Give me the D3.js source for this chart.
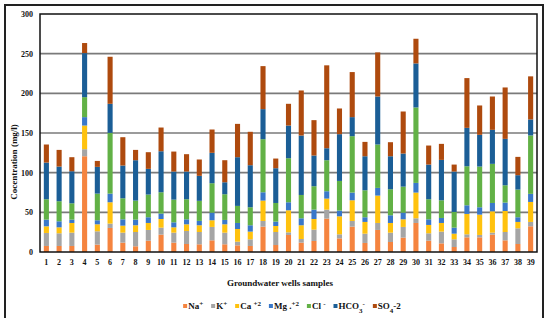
<!DOCTYPE html>
<html>
<head>
<meta charset="utf-8">
<script src="https://cdn.jsdelivr.net/npm/d3@7"></script>
<style>
  html, body { margin: 0; padding: 0; background: #fff; }
  svg { display: block; font-family: "Liberation Serif", "Times New Roman", serif; font-weight: bold; }
</style>
</head>
<body>
<div id="chart"></div>
<script>
// wells 1..39
const wells = d3.range(1, 40).map(String);

// ion concentrations (mg/l)
const na   = [7.6, 7.6, 7.6, 120.7, 9.3, 30.3, 11.8, 7.2, 14.3, 21.9, 11.8, 10.1, 9.7, 14.7, 9.7, 8.4, 7.6, 32, 8.8, 21.5, 11.8, 13.9, 42.1, 17.2, 32, 11.4, 27.8, 12.6, 18.1, 36.6, 14.3, 10.9, 6.3, 18.5, 18.5, 21.9, 14.7, 10.1, 32.4];
const k    = [16.4, 16, 16.8, 8.9, 16.8, 5.5, 12.6, 18, 13.5, 8.8, 12.6, 16.4, 15.5, 16.9, 14.7, 4.6, 8.4, 7.1, 16.4, 3.3, 4.6, 14.3, 11.3, 5.1, 7.1, 11.7, 8.8, 11.8, 13.5, 5.9, 9.3, 14.8, 9.7, 3.8, 3, 2.5, 10.5, 19.8, 5.5];
const ca   = [8.4, 7.5, 12.2, 29.8, 8.8, 26.9, 8.8, 8.5, 8.8, 10.9, 6.7, 8.4, 8.5, 8.4, 10.5, 16, 9.7, 25.7, 7.6, 27.8, 17.3, 13.4, 13.9, 22.7, 26.1, 14.8, 34.5, 12.2, 9.6, 32.4, 10.5, 10.9, 7.1, 25.7, 25.6, 26.9, 26.5, 8, 25.2];
const mg   = [8.4, 7.6, 4.2, 10.6, 5.1, 10.9, 8, 7.1, 7.2, 6.8, 6.3, 6.3, 5.5, 9.6, 5.5, 7.6, 8, 10.5, 5.5, 10.1, 8.8, 11.8, 9.3, 7.2, 9.7, 5.9, 9.7, 9.7, 8.4, 12.2, 7.1, 6.3, 7.6, 10.9, 9.3, 10.5, 10.6, 5.9, 10.2];
const cl   = [25.7, 25.3, 20.6, 25.2, 33.6, 76.6, 26.5, 24, 28.6, 26.9, 28.6, 25.3, 25.3, 37.1, 32.4, 21.5, 22.7, 66.9, 23.5, 55.5, 29.4, 29.5, 39.1, 37.4, 71.1, 34, 54.7, 32.8, 32.8, 95.1, 25.3, 22.3, 19.8, 49.2, 51.3, 49.3, 21.8, 34.9, 73.6];
const hco3 = [46.2, 43.7, 40.4, 55.5, 33.7, 36.6, 41.3, 50.9, 32.4, 51.7, 35.4, 34.9, 31.5, 38.3, 15.1, 61.4, 53, 37.9, 43.8, 41.2, 74.9, 38.7, 15.1, 58.9, 24, 42.9, 60.5, 41.6, 41.7, 55.5, 43.7, 50.9, 50.9, 48.4, 40, 42.9, 58.5, 18.1, 20.2];
const so4  = [22.8, 21, 17.7, 12.7, 7.5, 59.3, 35.7, 13, 21, 29.9, 25.2, 21.9, 20.6, 29.4, 27.8, 42, 42.1, 54.2, 12.2, 27.4, 56.8, 44.6, 104.5, 32.4, 56.8, 18.1, 55.6, 17.7, 53, 31.1, 24, 20.2, 8.8, 62.7, 37, 42, 64.8, 23.1, 54.3];

const yTicks = [0, 50, 100, 150, 200, 250, 300];

const series = [
  { key: "na",   values: na,   color: "#f5843f" },
  { key: "k",    values: k,    color: "#a5a5a5" },
  { key: "ca",   values: ca,   color: "#ffc20e" },
  { key: "mg",   values: mg,   color: "#3a78c9" },
  { key: "cl",   values: cl,   color: "#62b146" },
  { key: "hco3", values: hco3, color: "#1b5e96" },
  { key: "so4",  values: so4,  color: "#ae4a0e" }
];

const width = 550, height = 320;
const plot = { left: 40, right: 537, top: 14, bottom: 252 };

const svg = d3.select("#chart").append("svg")
  .attr("width", width)
  .attr("height", height);

// outer frame (open at the bottom, the figure is cropped there)
svg.append("path")
  .attr("d", `M5,318 V5 H543 V318`)
  .attr("fill", "none")
  .attr("stroke", "#222")
  .attr("stroke-width", 2);

const x = d3.scaleBand()
  .domain(wells)
  .range([plot.left, plot.right])
  .paddingInner(0.6)
  .paddingOuter(0.3);

const y = d3.scaleLinear()
  .domain([0, 300])
  .range([plot.bottom, plot.top]);

// gridlines
svg.append("g")
  .selectAll("line")
  .data(yTicks.filter(d => d > 0 && d < 300))
  .join("line")
  .attr("x1", plot.left).attr("x2", plot.right)
  .attr("y1", d => y(d)).attr("y2", d => y(d))
  .attr("stroke", "#7a7a7a")
  .attr("stroke-width", 1.6);

// build rows for stacking
const rows = wells.map((w, i) => {
  const r = { well: w };
  series.forEach(s => r[s.key] = s.values[i]);
  return r;
});
const stacked = d3.stack().keys(series.map(s => s.key))(rows);

svg.append("g")
  .selectAll("g")
  .data(stacked)
  .join("g")
  .attr("fill", (d, i) => series[i].color)
  .selectAll("rect")
  .data(d => d)
  .join("rect")
  .attr("x", d => x(d.data.well))
  .attr("width", x.bandwidth())
  .attr("y", d => y(d[1]))
  .attr("height", d => y(d[0]) - y(d[1]));

// plot border
svg.append("rect")
  .attr("x", plot.left).attr("y", plot.top)
  .attr("width", plot.right - plot.left)
  .attr("height", plot.bottom - plot.top)
  .attr("fill", "none")
  .attr("stroke", "#111")
  .attr("stroke-width", 1.5);

// y axis
const yAxis = svg.append("g")
  .attr("transform", `translate(${plot.left},0)`)
  .call(d3.axisLeft(y).tickValues(yTicks).tickSize(0).tickPadding(7));
yAxis.select(".domain").remove();
yAxis.selectAll("text")
  .style("font-family", "Liberation Serif, serif")
  .style("font-weight", "bold")
  .style("font-size", "8px")
  .attr("fill", "#111");

// x axis
const xAxis = svg.append("g")
  .attr("transform", `translate(0,${plot.bottom})`)
  .call(d3.axisBottom(x).tickSize(0).tickPadding(7));
xAxis.select(".domain").remove();
xAxis.selectAll("text")
  .style("font-family", "Liberation Serif, serif")
  .style("font-weight", "bold")
  .style("font-size", "8px")
  .attr("fill", "#111");

// axis titles
svg.append("text")
  .attr("transform", "translate(17,162) rotate(-90)")
  .attr("text-anchor", "middle")
  .style("font-size", "9px")
  .attr("fill", "#111")
  .text("Cocentration  (mg/l)");

svg.append("text")
  .attr("x", 280).attr("y", 286)
  .attr("text-anchor", "middle")
  .style("font-size", "9px")
  .attr("fill", "#111")
  .text("Groundwater  wells samples");

// legend
const legendItems = [
  { color: series[0].color, parts: [["Na", 0], ["+", 1]] },
  { color: series[1].color, parts: [["K", 0], ["+", 1]] },
  { color: series[2].color, parts: [["Ca ", 0], ["+2", 1]] },
  { color: series[3].color, parts: [["Mg .", 0], ["+2", 1]] },
  { color: series[4].color, parts: [["Cl ", 0], ["-", 1]] },
  { color: series[5].color, parts: [["HCO", 0], ["3", -1], ["-", 1]] },
  { color: series[6].color, parts: [["SO", 0], ["4", -1], ["-2", 0]] }
];

const legend = svg.append("g");
let lx = 0;
const ly = 309;
legendItems.forEach(item => {
  legend.append("rect")
    .attr("x", lx).attr("y", ly - 5)
    .attr("width", 4).attr("height", 4)
    .attr("fill", item.color);
  const t = legend.append("text")
    .attr("x", lx + 5).attr("y", ly)
    .style("font-size", "9px")
    .attr("fill", "#111");
  // dy is relative, so track the current shift
  let cur = 0;
  item.parts.forEach(([s, shift]) => {
    const target = shift === 1 ? -3 : shift === -1 ? 4 : 0;
    const ts = t.append("tspan").text(s).attr("dy", target - cur);
    if (shift !== 0) ts.style("font-size", "7px");
    cur = target;
  });
  lx += 5 + t.node().getComputedTextLength() + 8;
});
legend.attr("transform", `translate(${292 - (lx - 8) / 2},0)`);
</script>
</body>
</html>
